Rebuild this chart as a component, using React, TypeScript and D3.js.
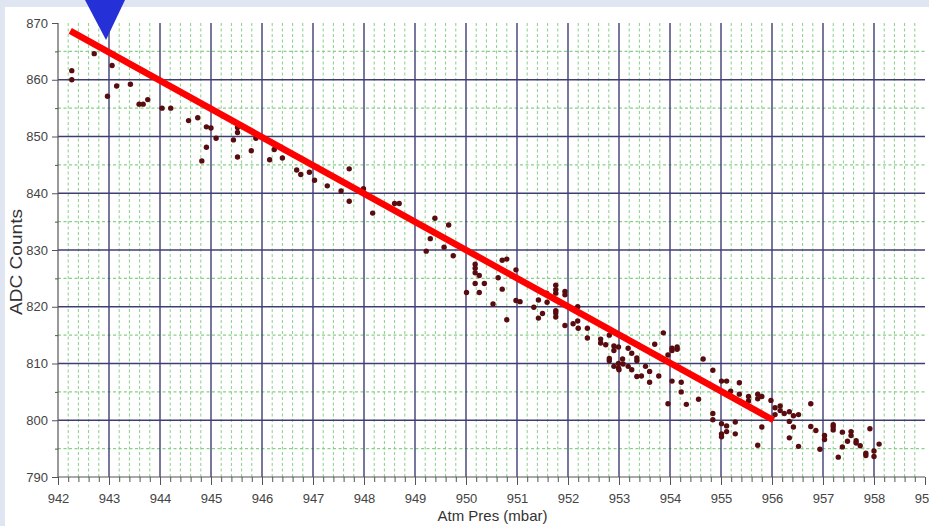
import React, { useRef, useEffect } from "react";
import { select, scaleLinear, axisBottom, axisLeft, range, line } from "d3";

// Atm pressure (mbar) vs ADC counts
const pressure = [
  942.27, 942.27, 942.71, 943.06, 942.97, 943.15, 943.42, 943.59, 943.67, 943.76,
  944.04, 944.21, 944.56, 944.74, 944.82, 944.91, 944.91, 945.0, 945.1, 945.44,
  945.52, 945.52, 945.52, 945.79, 945.88, 946.15, 946.24, 946.4, 946.68, 946.76,
  946.93, 947.03, 947.28, 947.55, 947.71, 947.71, 947.99, 948.17, 948.6, 948.69,
  949.22, 949.3, 949.39, 949.57, 949.66, 949.75, 950.01, 950.18, 950.18, 950.18,
  950.26, 950.18, 950.26, 950.36, 950.53, 950.63, 950.71, 950.8, 950.71, 950.8,
  950.98, 950.98, 951.06, 951.33, 951.42, 951.42, 951.5, 951.59, 951.58, 951.76,
  951.76, 951.76, 951.76, 951.76, 951.76, 951.94, 951.94, 951.94, 952.1, 952.19,
  952.2, 952.19, 952.38, 952.38, 952.64, 952.64, 952.74, 952.81, 952.81, 952.81,
  952.9, 952.9, 952.9, 952.99, 952.99, 952.99, 953.0, 953.08, 953.18, 953.18,
  953.25, 953.25, 953.35, 953.35, 953.35, 953.44, 953.52, 953.6, 953.6, 953.7,
  953.78, 953.87, 953.96, 954.04, 954.04, 954.14, 954.14, 953.96, 954.04, 954.22,
  954.22, 954.32, 954.56, 954.65, 954.84, 955.01, 955.11, 955.19, 955.36, 955.36,
  955.54, 955.54, 955.72, 955.72, 955.8, 955.98, 956.06, 956.06, 956.16, 956.16,
  956.24, 956.34, 956.42, 956.52, 956.34, 956.42, 956.34, 956.52, 956.76, 956.76,
  956.86, 956.94, 957.03, 957.03, 957.2, 957.2, 957.2, 957.3, 957.38, 957.38,
  957.48, 957.55, 957.55, 957.65, 957.65, 957.73, 957.84, 957.84, 957.92, 958.0,
  958.0, 958.1, 954.84, 954.84, 955.01, 955.01, 955.01, 955.11, 955.11, 955.28,
  955.28, 955.72, 955.8, 953.07,
];
const counts = [
  861.6, 860.0, 864.6, 862.5, 857.1, 858.9, 859.2, 855.7, 855.7, 856.5,
  855.0, 855.0, 852.8, 853.3, 845.7, 848.1, 851.7, 851.5, 849.7, 849.4,
  850.7, 851.6, 846.4, 847.5, 849.7, 845.9, 847.7, 846.2, 844.1, 843.3,
  843.7, 842.3, 841.3, 840.4, 844.3, 838.6, 840.8, 836.5, 838.2, 838.2,
  829.8, 832.0, 835.6, 830.5, 834.4, 829.0, 822.5, 827.5, 826.8, 826.0,
  825.5, 824.1, 822.5, 824.1, 820.5, 825.1, 828.2, 828.4, 823.1, 817.7,
  826.5, 821.1, 820.9, 819.9, 821.2, 818.0, 818.8, 820.8, 822.4, 823.8,
  823.0, 822.4, 819.3, 818.9, 818.2, 822.7, 822.1, 816.7, 817.0, 817.5,
  816.2, 820.0, 816.2, 814.5, 814.3, 813.6, 813.3, 815.0, 810.9, 810.5,
  813.1, 812.3, 809.5, 812.9, 810.0, 809.2, 808.9, 809.9, 812.7, 809.5,
  811.8, 808.9, 811.0, 810.5, 807.7, 807.8, 809.5, 808.6, 806.7, 813.4,
  807.8, 815.4, 811.5, 812.7, 812.3, 812.9, 812.5, 802.9, 806.9, 806.7,
  805.0, 802.8, 803.7, 810.8, 808.8, 806.9, 806.9, 805.1, 806.6, 804.6,
  804.2, 803.4, 804.6, 803.8, 804.2, 803.5, 802.2, 801.0, 802.5, 801.7,
  801.2, 801.5, 800.8, 801.0, 799.8, 798.8, 796.9, 795.4, 802.9, 798.9,
  798.2, 794.9, 797.3, 796.6, 799.2, 798.8, 798.3, 793.5, 797.9, 795.3,
  796.3, 798.0, 797.3, 796.4, 796.0, 795.5, 794.2, 793.8, 798.5, 794.6,
  793.6, 795.8, 801.2, 800.1, 799.4, 797.6, 797.1, 799.0, 798.0, 799.7,
  797.6, 795.6, 798.8, 810.8,
];

// red fitted line, end points
const fitPressure = [942.24, 956.03];
const fitCounts = [868.6, 800.0];

const xTickLabels = [942, 943, 944, 945, 946, 947, 948, 949, 950, 951, 952, 953, 954, 955, 956, 957, 958, 959];
const yTickLabels = [790, 800, 810, 820, 830, 840, 850, 860, 870];

const W = 929;
const H = 526;
const FONT = "'Liberation Sans', Arial, sans-serif";

function App() {
  const svgRef = useRef(null);

  useEffect(() => {
    const svg = select(svgRef.current);
    svg.selectAll("*").remove();

    const xScale = scaleLinear().domain([942, 959]).range([58, 925]);
    const yScale = scaleLinear().domain([790, 870]).range([477, 23]);
    const [x0, x1] = xScale.range();
    const [y0, y1] = yScale.range();

    // page background + white panel
    svg.append("rect").attr("width", W).attr("height", H).attr("fill", "#dfe6f2");
    svg.append("rect").attr("x", 5).attr("y", 7).attr("width", W - 5).attr("height", H - 7).attr("fill", "#ffffff");

    // minor grid, every 0.2 mbar and 5 counts
    const xMinor = range(0, 85).filter(i => i % 5 !== 0).map(i => 942 + i / 5);
    const yMinor = range(795, 870, 10);
    const grid = svg.append("g");
    grid
      .selectAll(".vminor")
      .data(xMinor)
      .join("line")
      .attr("class", "vminor")
      .attr("x1", d => xScale(d))
      .attr("x2", d => xScale(d))
      .attr("y1", y1)
      .attr("y2", y0)
      .attr("stroke", "#88d088")
      .attr("stroke-width", 1)
      .attr("stroke-dasharray", "3,2.5");
    grid
      .selectAll(".hminor")
      .data(yMinor)
      .join("line")
      .attr("class", "hminor")
      .attr("x1", x0)
      .attr("x2", x1)
      .attr("y1", d => yScale(d))
      .attr("y2", d => yScale(d))
      .attr("stroke", "#88d088")
      .attr("stroke-width", 1.1)
      .attr("stroke-dasharray", "3,2.5");

    // major grid
    grid
      .selectAll(".vmajor")
      .data(xTickLabels.slice(1, -1))
      .join("line")
      .attr("class", "vmajor")
      .attr("x1", d => xScale(d))
      .attr("x2", d => xScale(d))
      .attr("y1", y1)
      .attr("y2", y0)
      .attr("stroke", "#3e3e74")
      .attr("stroke-width", 1.4);
    grid
      .selectAll(".hmajor")
      .data(yTickLabels.slice(1, -1))
      .join("line")
      .attr("class", "hmajor")
      .attr("x1", x0)
      .attr("x2", x1)
      .attr("y1", d => yScale(d))
      .attr("y2", d => yScale(d))
      .attr("stroke", "#3e3e74")
      .attr("stroke-width", 1.4);

    // axes
    const xAxis = axisBottom(xScale).tickValues(xTickLabels).tickSize(8).tickPadding(9).tickFormat(d => String(d));
    const xMinorAxis = axisBottom(xScale).tickValues(xMinor).tickSize(5).tickFormat(() => "");
    const yAxis = axisLeft(yScale).tickValues(yTickLabels).tickSize(6).tickPadding(4).tickFormat(d => String(d));
    const yMinorAxis = axisLeft(yScale).tickValues(yMinor).tickSize(3).tickFormat(() => "");

    const styleAxis = g => {
      g.selectAll(".tick line").attr("stroke", "#555");
      g.selectAll(".tick text").attr("fill", "#444").attr("font-size", 13).attr("font-family", FONT);
    };

    svg.append("g").attr("transform", `translate(0,${y0})`).call(xMinorAxis).call(styleAxis);
    svg.append("g").attr("transform", `translate(0,${y0})`).call(xAxis).call(styleAxis);
    svg.append("g").attr("transform", `translate(${x0},0)`).call(yMinorAxis).call(styleAxis);
    svg.append("g").attr("transform", `translate(${x0},0)`).call(yAxis).call(styleAxis);
    svg.selectAll(".domain").remove();
    svg.append("line").attr("x1", x0).attr("x2", x0).attr("y1", y1).attr("y2", y0).attr("stroke", "#555").attr("stroke-width", 1.2);
    svg.append("line").attr("x1", x0).attr("x2", x1).attr("y1", y0).attr("y2", y0).attr("stroke", "#555").attr("stroke-width", 1.2);

    // data points
    svg
      .selectAll(".dot")
      .data(pressure.map((p, i) => [p, counts[i]]))
      .join("circle")
      .attr("class", "dot")
      .attr("cx", d => xScale(d[0]))
      .attr("cy", d => yScale(d[1]))
      .attr("r", 2.7)
      .attr("fill", "#580c0f");

    // fitted line
    const fitLine = line()
      .x(d => xScale(d[0]))
      .y(d => yScale(d[1]));
    svg
      .append("path")
      .datum(fitPressure.map((p, i) => [p, fitCounts[i]]))
      .attr("d", fitLine)
      .attr("fill", "none")
      .attr("stroke", "#ff0000")
      .attr("stroke-width", 6.5);

    // axis titles
    svg
      .append("text")
      .attr("x", (x0 + x1) / 2 + 1)
      .attr("y", 521)
      .attr("text-anchor", "middle")
      .attr("font-family", FONT)
      .attr("font-size", 15)
      .attr("fill", "#333")
      .text("Atm Pres (mbar)");
    svg
      .append("text")
      .attr("transform", "translate(22,262) rotate(-90)")
      .attr("text-anchor", "middle")
      .attr("font-family", FONT)
      .attr("font-size", 16)
      .attr("fill", "#333")
      .attr("textLength", 106)
      .attr("lengthAdjust", "spacingAndGlyphs")
      .text("ADC Counts");

    // blue marker arrow
    svg.append("path").attr("d", "M85,0 L125,0 L106,40 Z").attr("fill", "#2530d6");
  }, []);

  return (
    <svg
      ref={svgRef}
      width={W}
      height={H}
      style={{ position: "absolute", left: 0, top: 0, display: "block" }}
    />
  );
}

export default App;
